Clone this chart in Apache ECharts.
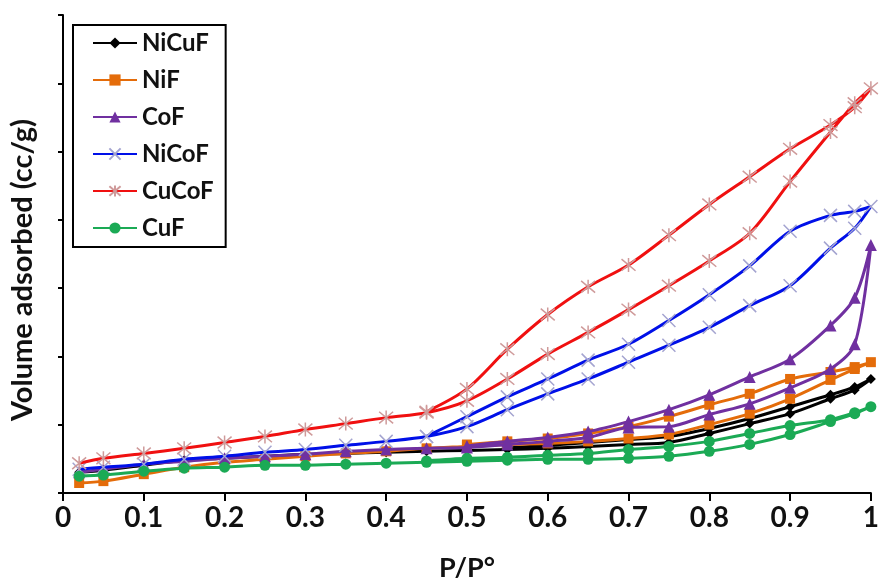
<!DOCTYPE html>
<html>
<head>
<meta charset="utf-8">
<script src="https://cdn.jsdelivr.net/npm/echarts@6/dist/echarts.min.js"></script>
<style>html,body{margin:0;padding:0;background:#fff}#c{width:882px;height:587px}</style>
</head>
<body>
<div id="c"></div>
<script>
// Relative pressure points (adsorption: rising, desorption: falling)
const pAds = [0.02,0.05,0.1,0.15,0.2,0.25,0.3,0.35,0.4,0.45,0.5,0.55,0.6,0.65,0.7,0.75,0.8,0.85,0.9,0.95,0.98,1.0];
const pDes = [0.98,0.95,0.9,0.85,0.8,0.75,0.7,0.65,0.6,0.55,0.5,0.45];

// Volume adsorbed (cc/g)
const NiCuF_ads = [15.2,16.7,20.3,24.0,25.4,26.9,28.3,29.0,29.8,30.5,31.2,31.9,32.7,34.1,35.6,37.0,43.6,50.8,58.1,69.0,75.5,83.5];
const NiCuF_des = [77.7,71.9,63.2,54.5,47.2,41.4,39.2,37.0,34.9,33.0,null,null];
const NiF_ads   = [7.3,8.7,13.8,18.9,22.5,24.7,26.9,29.0,30.5,32.7,34.1,35.6,36.3,37.8,39.9,42.8,50.1,58.1,69.0,82.8,90.8,95.8];
const NiF_des   = [92.2,88.6,83.5,72.6,64.6,55.9,48.6,43.6,39.9,37.8,35.5,null];
const CoF_ads   = [15.2,17.4,21.1,23.2,25.4,26.9,28.3,30.5,31.9,32.7,33.4,35.6,37.8,40.7,47.9,48.6,57.4,65.3,77.0,90.8,108.9,181.5];
const CoF_des   = [143.0,122.7,98.0,85.0,71.9,61.0,52.3,45.0,40.7,37.8,34.5,null];
const NiCoF_ads = [17.4,18.9,21.1,24.7,26.9,29.8,31.9,34.9,37.8,41.4,48.6,61.0,72.6,83.5,95.8,108.2,121.3,137.2,151.8,179.3,193.9,209.8];
const NiCoF_des = [206.2,203.3,191.7,166.3,145.2,126.3,108.9,97.3,83.5,70.4,55.9,41.4];
const CuCoF_ads = [21.8,25.4,29.0,32.7,37.0,41.4,46.5,50.8,55.2,58.8,67.5,83.5,101.7,117.6,134.3,151.8,169.9,190.2,228.0,264.3,285.4,296.3];
const CuCoF_des = [282.5,269.4,252.0,231.6,211.3,188.8,167.0,151.0,130.7,105.3,76.2,59.5];
const CuF_ads   = [12.3,13.1,16.0,18.2,18.9,20.3,20.3,21.1,21.8,22.5,23.2,24.0,24.7,24.7,25.4,26.9,30.5,35.6,42.8,52.3,58.1,63.2];
const CuF_des   = [58.8,53.7,49.4,43.6,37.8,34.1,31.9,29.0,27.6,26.1,25.4,23.5];

const seriesNames = ['NiCuF','NiF','CoF','NiCoF','CuCoF','CuF'];
const xTicks = [0,0.1,0.2,0.3,0.4,0.5,0.6,0.7,0.8,0.9,1];

function loop(ads, des) {
  const d = pAds.map((p, i) => [p, ads[i]]);
  pDes.forEach((p, i) => { if (des[i] != null) d.push([p, des[i]]); });
  return d;
}

const FONT = 'Lato';
const ASTER = 'path://M0,0L10,10M10,0L0,10M5,-1L5,11';
const XMARK = 'path://M0,0L10,10M10,0L0,10';

const styles = [
  {data: loop(NiCuF_ads, NiCuF_des), line: '#000000', symbol: 'diamond', size: 10, item: {color: '#000000'}},
  {data: loop(NiF_ads, NiF_des), line: '#E46C0A', symbol: 'rect', size: 10, item: {color: '#E46C0A'}},
  {data: loop(CoF_ads, CoF_des), line: '#7030A0', symbol: 'triangle', size: 12, item: {color: '#7030A0'}},
  {data: loop(NiCoF_ads, NiCoF_des), line: '#0010E8', symbol: XMARK, size: 13, item: {color: 'rgba(0,0,0,0)', borderColor: '#a4a4d0', borderWidth: 1.5}},
  {data: loop(CuCoF_ads, CuCoF_des), line: '#F01010', symbol: ASTER, size: 14, item: {color: 'rgba(0,0,0,0)', borderColor: '#cf9a9a', borderWidth: 1.5}},
  {data: loop(CuF_ads, CuF_des), line: '#1BAA55', symbol: 'circle', size: 11, item: {color: '#1BAA55'}}
];

const chart = echarts.init(document.getElementById('c'), null, {renderer: 'canvas'});
chart.setOption({
  animation: false,
  backgroundColor: '#ffffff',
  grid: {left: 62, right: 6, top: 15, bottom: 90, containLabel: false},
  legend: {
    orient: 'vertical', left: 73, top: 25,
    data: seriesNames,
    itemWidth: 44, itemHeight: 14, itemGap: 9,
    padding: [4, 12, 5, 19],
    borderColor: '#000', borderWidth: 2,
    textStyle: {fontFamily: FONT, fontWeight: 'bold', fontSize: 24, color: '#111', lineHeight: 28}
  },
  xAxis: {
    type: 'value', min: 0, max: 1, interval: 0.1,
    name: 'P/P°', nameLocation: 'middle', nameGap: 62,
    nameTextStyle: {fontFamily: FONT, fontWeight: 'bold', fontSize: 27, color: '#111'},
    axisLine: {show: true, onZero: false, lineStyle: {color: '#000', width: 2}},
    axisTick: {show: true, inside: false, length: 8, lineStyle: {color: '#000', width: 2}},
    axisLabel: {show: true, margin: 11, fontFamily: FONT, fontWeight: 'bold', fontSize: 28, color: '#111',
      formatter: v => String(xTicks.find(t => Math.abs(t - v) < 1e-9) ?? v)},
    splitLine: {show: false}
  },
  yAxis: {
    type: 'value', min: 0, max: 350, interval: 50,
    name: 'Volume adsorbed (cc/g)', nameLocation: 'middle', nameGap: 26,
    nameTextStyle: {fontFamily: FONT, fontWeight: 'bold', fontSize: 29, color: '#111', padding: [0, 32, 0, 0]},
    axisLine: {show: true, onZero: false, lineStyle: {color: '#000', width: 2}},
    axisTick: {show: true, inside: false, length: 5, lineStyle: {color: '#000', width: 2}},
    axisLabel: {show: false},
    splitLine: {show: false}
  },
  series: styles.map((s, i) => ({
    name: seriesNames[i], type: 'line', data: s.data,
    smooth: 0.3, showAllSymbol: true,
    symbol: s.symbol, symbolSize: s.size,
    lineStyle: {color: s.line, width: 3},
    itemStyle: s.item,
    color: s.line,
    z: 2 + i
  }))
});
</script>
</body>
</html>
